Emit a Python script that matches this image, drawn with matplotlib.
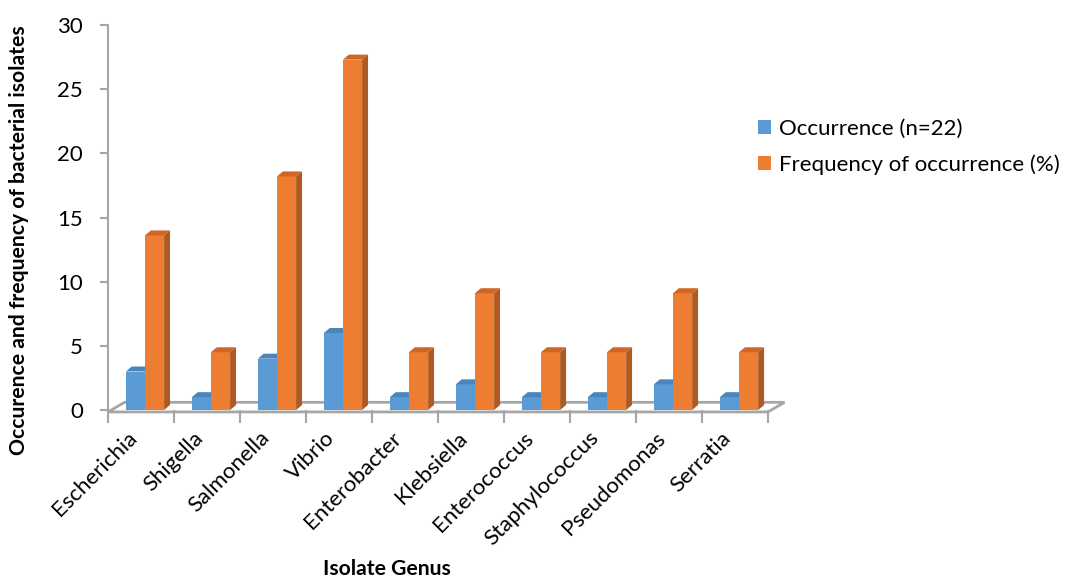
import numpy as np
import matplotlib.pyplot as plt
from matplotlib.patches import Polygon
from matplotlib.transforms import ScaledTranslation

genera = ['Escherichia', 'Shigella', 'Salmonella', 'Vibrio', 'Enterobacter',
          'Klebsiella', 'Enterococcus', 'Staphylococcus', 'Pseudomonas', 'Serratia']
occurrence = [3, 1, 4, 6, 1, 2, 1, 1, 2, 1]
frequency = [13.6, 4.5, 18.2, 27.3, 4.5, 9.1, 4.5, 4.5, 9.1, 4.5]

# face colours: front, side, top
blue = ('#5b9bd5', '#41719c', '#4a85bd')
orange = ('#ed7d31', '#ae5a21', '#cf6623')

plt.rcParams['font.family'] = ['Lato', 'DejaVu Sans']

fig = plt.figure(figsize=(10.67, 5.77), dpi=100)
ax = fig.add_axes([0.1012, 0.2894, 0.6186, 0.6673])

n = len(genera)
bw = 0.29        # bar width (category units)
dx, dy = 0.09, 0.39   # fake depth offset for the 3d look

# floor of the 3d box
f0, fx, fy = -0.15, 0.25, 0.75
floor = Polygon([(0, f0), (n, f0), (n + fx, f0 + fy), (fx, f0 + fy)],
                closed=True, facecolor='white', edgecolor='#a6a6a6',
                lw=2, zorder=1, clip_on=False)
ax.add_patch(floor)


def bars3d(xs, vals, cols, label):
    ax.bar(xs, vals, bw, align='edge', color=cols[0], zorder=3, label=label)
    for x0, h in zip(xs, vals):
        top = Polygon([(x0, h), (x0 + bw, h), (x0 + bw + dx, h + dy), (x0 + dx, h + dy)],
                      closed=True, facecolor=cols[2], edgecolor='none', zorder=3)
        side = Polygon([(x0 + bw, 0), (x0 + bw + dx, dy), (x0 + bw + dx, h + dy), (x0 + bw, h)],
                       closed=True, facecolor=cols[1], edgecolor='none', zorder=3)
        ax.add_patch(top)
        ax.add_patch(side)


idx = np.arange(n)
bars3d(idx + 0.27, occurrence, blue, 'Occurrence (n=22)')
bars3d(idx + 0.27 + bw, frequency, orange, 'Frequency of occurrence (%)')

ax.set_xlim(0, n)
ax.set_ylim(0, 30)
ax.set_yticks(np.arange(0, 31, 5))
ax.set_xticks(idx + 0.5)
ax.set_xticklabels(genera, rotation=45, ha='right', va='bottom',
                   rotation_mode='anchor', fontsize=16)
shift = ScaledTranslation(5 / 100, 0, fig.dpi_scale_trans)
for lbl in ax.get_xticklabels():
    lbl.set_transform(lbl.get_transform() + shift)
ax.set_xticks(np.arange(0, n + 1), minor=True)
ax.tick_params(axis='x', which='major', length=0, pad=23)
ax.tick_params(axis='x', which='minor', length=9, width=1.5, color='#a6a6a6')
ax.tick_params(axis='y', length=6, width=1.5, color='#a6a6a6', labelsize=16, pad=12)

for s in ('top', 'right', 'bottom'):
    ax.spines[s].set_visible(False)
ax.spines['left'].set_color('#a6a6a6')
ax.spines['left'].set_linewidth(1.5)

ax.set_ylabel('Occurence and frequency of bacterial isolates', fontsize=15.2,
              fontweight='bold')
ax.yaxis.set_label_coords(-0.12, 0.44)
ax.set_xlabel('Isolate Genus', fontsize=15.2, fontweight='bold')
ax.xaxis.set_label_coords(0.423, -0.387)

handles, labels = ax.get_legend_handles_labels()
fig.legend(handles, labels, loc='upper left', bbox_to_anchor=(758 / 1067, 1 - 119 / 577),
           bbox_transform=fig.transFigure, borderpad=0, borderaxespad=0,
           frameon=False, fontsize=16, handlelength=0.6, handleheight=0.6,
           handletextpad=0.35, labelspacing=0.7)

fig.savefig('out.png', dpi=100)
